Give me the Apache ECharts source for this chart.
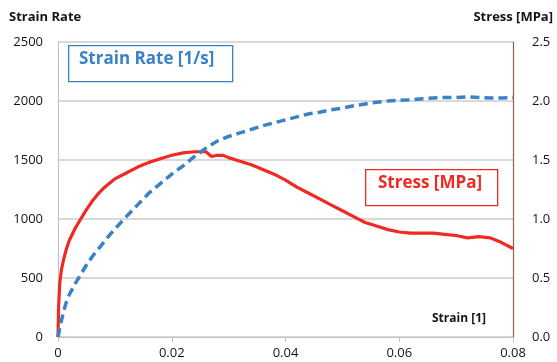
<!DOCTYPE html>
<html>
<head>
<meta charset="utf-8">
<script src="https://cdn.jsdelivr.net/npm/echarts@6/dist/echarts.min.js"></script>
<style>
html,body{margin:0;padding:0;background:#fff;}
#chart{width:557px;height:362px;}
</style>
</head>
<body>
<div id="chart"></div>
<script>
// Data
const stressStrain = [0, 0.0001, 0.0003, 0.0006, 0.001, 0.0015, 0.002, 0.003, 0.004, 0.005, 0.006, 0.007, 0.008, 0.009, 0.010, 0.012, 0.014, 0.016, 0.018, 0.020, 0.022, 0.024, 0.026, 0.027, 0.028, 0.029, 0.030, 0.032, 0.034, 0.036, 0.038, 0.040, 0.042, 0.044, 0.046, 0.048, 0.050, 0.052, 0.054, 0.056, 0.058, 0.060, 0.062, 0.064, 0.066, 0.068, 0.070, 0.072, 0.074, 0.076, 0.078, 0.080];
const stressValues = [0, 0.25, 0.45, 0.57, 0.66, 0.75, 0.82, 0.92, 1.00, 1.08, 1.15, 1.21, 1.26, 1.30, 1.34, 1.39, 1.44, 1.48, 1.51, 1.54, 1.56, 1.57, 1.57, 1.53, 1.54, 1.54, 1.52, 1.49, 1.46, 1.42, 1.38, 1.33, 1.27, 1.22, 1.17, 1.12, 1.07, 1.02, 0.97, 0.94, 0.91, 0.89, 0.88, 0.88, 0.88, 0.87, 0.86, 0.84, 0.85, 0.84, 0.80, 0.75];
const rateStrain = [0, 0.0005, 0.001, 0.0015, 0.002, 0.003, 0.004, 0.005, 0.006, 0.007, 0.008, 0.009, 0.010, 0.012, 0.014, 0.016, 0.018, 0.020, 0.022, 0.024, 0.026, 0.028, 0.030, 0.032, 0.034, 0.036, 0.038, 0.040, 0.042, 0.044, 0.046, 0.048, 0.050, 0.052, 0.054, 0.056, 0.058, 0.060, 0.062, 0.064, 0.066, 0.068, 0.070, 0.072, 0.074, 0.076, 0.078, 0.080];
const rateValues = [0, 120, 220, 300, 360, 450, 530, 610, 680, 740, 800, 860, 915, 1020, 1120, 1220, 1300, 1380, 1450, 1530, 1600, 1660, 1700, 1730, 1760, 1790, 1815, 1840, 1865, 1890, 1905, 1925, 1940, 1960, 1975, 1990, 2000, 2005, 2010, 2020, 2025, 2030, 2030, 2035, 2030, 2025, 2025, 2030];

const xTicks = [0, 0.02, 0.04, 0.06, 0.08];
const leftTicks = [0, 500, 1000, 1500, 2000, 2500];
const rightTicks = [0.0, 0.5, 1.0, 1.5, 2.0, 2.5];

const seriesNames = ['Strain Rate [1/s]', 'Stress [MPa]'];
const axisNames = {left: 'Strain Rate', right: 'Stress [MPa]', x: 'Strain [1]'};

const FONT = '"Open Sans", "Noto Sans", sans-serif';
const BLUE = '#3a82c8';
const RED = '#ee2a22';
const TXT = '#141414';

const chart = echarts.init(document.getElementById('chart'), null, {renderer: 'canvas'});
const option = {
  animation: false,
  backgroundColor: '#ffffff',
  grid: {left: 58, right: 44, top: 42, bottom: 25, containLabel: false},
  xAxis: {
    type: 'value',
    min: xTicks[0], max: xTicks[xTicks.length - 1], interval: 0.02,
    axisLine: {show: true, lineStyle: {color: '#b6c2cf', width: 1}},
    axisTick: {show: true, length: 5, lineStyle: {color: '#b6c2cf'}},
    splitLine: {show: false},
    axisLabel: {color: TXT, fontFamily: FONT, fontSize: 13, margin: 10,
      formatter: v => (v === 0 ? '0' : String(+v.toFixed(2)))}
  },
  yAxis: [
    {
      type: 'value', min: leftTicks[0], max: leftTicks[leftTicks.length - 1], interval: 500,
      axisLine: {show: true, lineStyle: {color: '#b6c2cf', width: 1}},
      axisTick: {show: false},
      splitLine: {show: true, lineStyle: {color: '#cccccc', width: 1.5}},
      axisLabel: {color: TXT, fontFamily: FONT, fontSize: 13, margin: 15,
        formatter: v => String(Math.round(v))}
    },
    {
      type: 'value', min: rightTicks[0], max: rightTicks[rightTicks.length - 1], interval: 0.5,
      position: 'right',
      axisLine: {show: true, lineStyle: {color: '#9a5a50', width: 1.2}},
      axisTick: {show: false},
      splitLine: {show: false},
      axisLabel: {color: TXT, fontFamily: FONT, fontSize: 13, margin: 19,
        formatter: v => v.toFixed(1)}
    }
  ],
  series: [
    {
      name: seriesNames[0], type: 'line', yAxisIndex: 0, showSymbol: false, symbol: 'none',
      data: rateStrain.map((s, i) => [s, rateValues[i]]),
      lineStyle: {color: BLUE, width: 3.5, type: [9, 5]},
      z: 3
    },
    {
      name: seriesNames[1], type: 'line', yAxisIndex: 1, showSymbol: false, symbol: 'none',
      data: stressStrain.map((s, i) => [s, stressValues[i]]),
      lineStyle: {color: RED, width: 3.2},
      z: 2
    }
  ],
  graphic: [
    {type: 'text', left: 9, top: 11,
      style: {text: axisNames.left, font: 'bold 13px ' + FONT, fill: TXT}},
    {type: 'text', right: 4, top: 11,
      style: {text: axisNames.right, font: 'bold 13px ' + FONT, fill: TXT}},
    {type: 'text', left: 432, top: 313,
      style: {text: axisNames.x, font: 'bold 12px ' + FONT, fill: TXT}},
    {type: 'rect', left: 68, top: 45, z: 10,
      shape: {width: 164, height: 36},
      style: {fill: '#fff', stroke: BLUE, lineWidth: 1.3}},
    {type: 'text', left: 79, top: 51, z: 11,
      style: {text: seriesNames[0], font: 'bold 17px ' + FONT, fill: BLUE}},
    {type: 'rect', left: 365, top: 169, z: 10,
      shape: {width: 132, height: 36},
      style: {fill: '#fff', stroke: RED, lineWidth: 1.3}},
    {type: 'text', left: 378, top: 175, z: 11,
      style: {text: seriesNames[1], font: 'bold 17px ' + FONT, fill: RED}}
  ]
};
chart.setOption(option);
</script>
</body>
</html>
